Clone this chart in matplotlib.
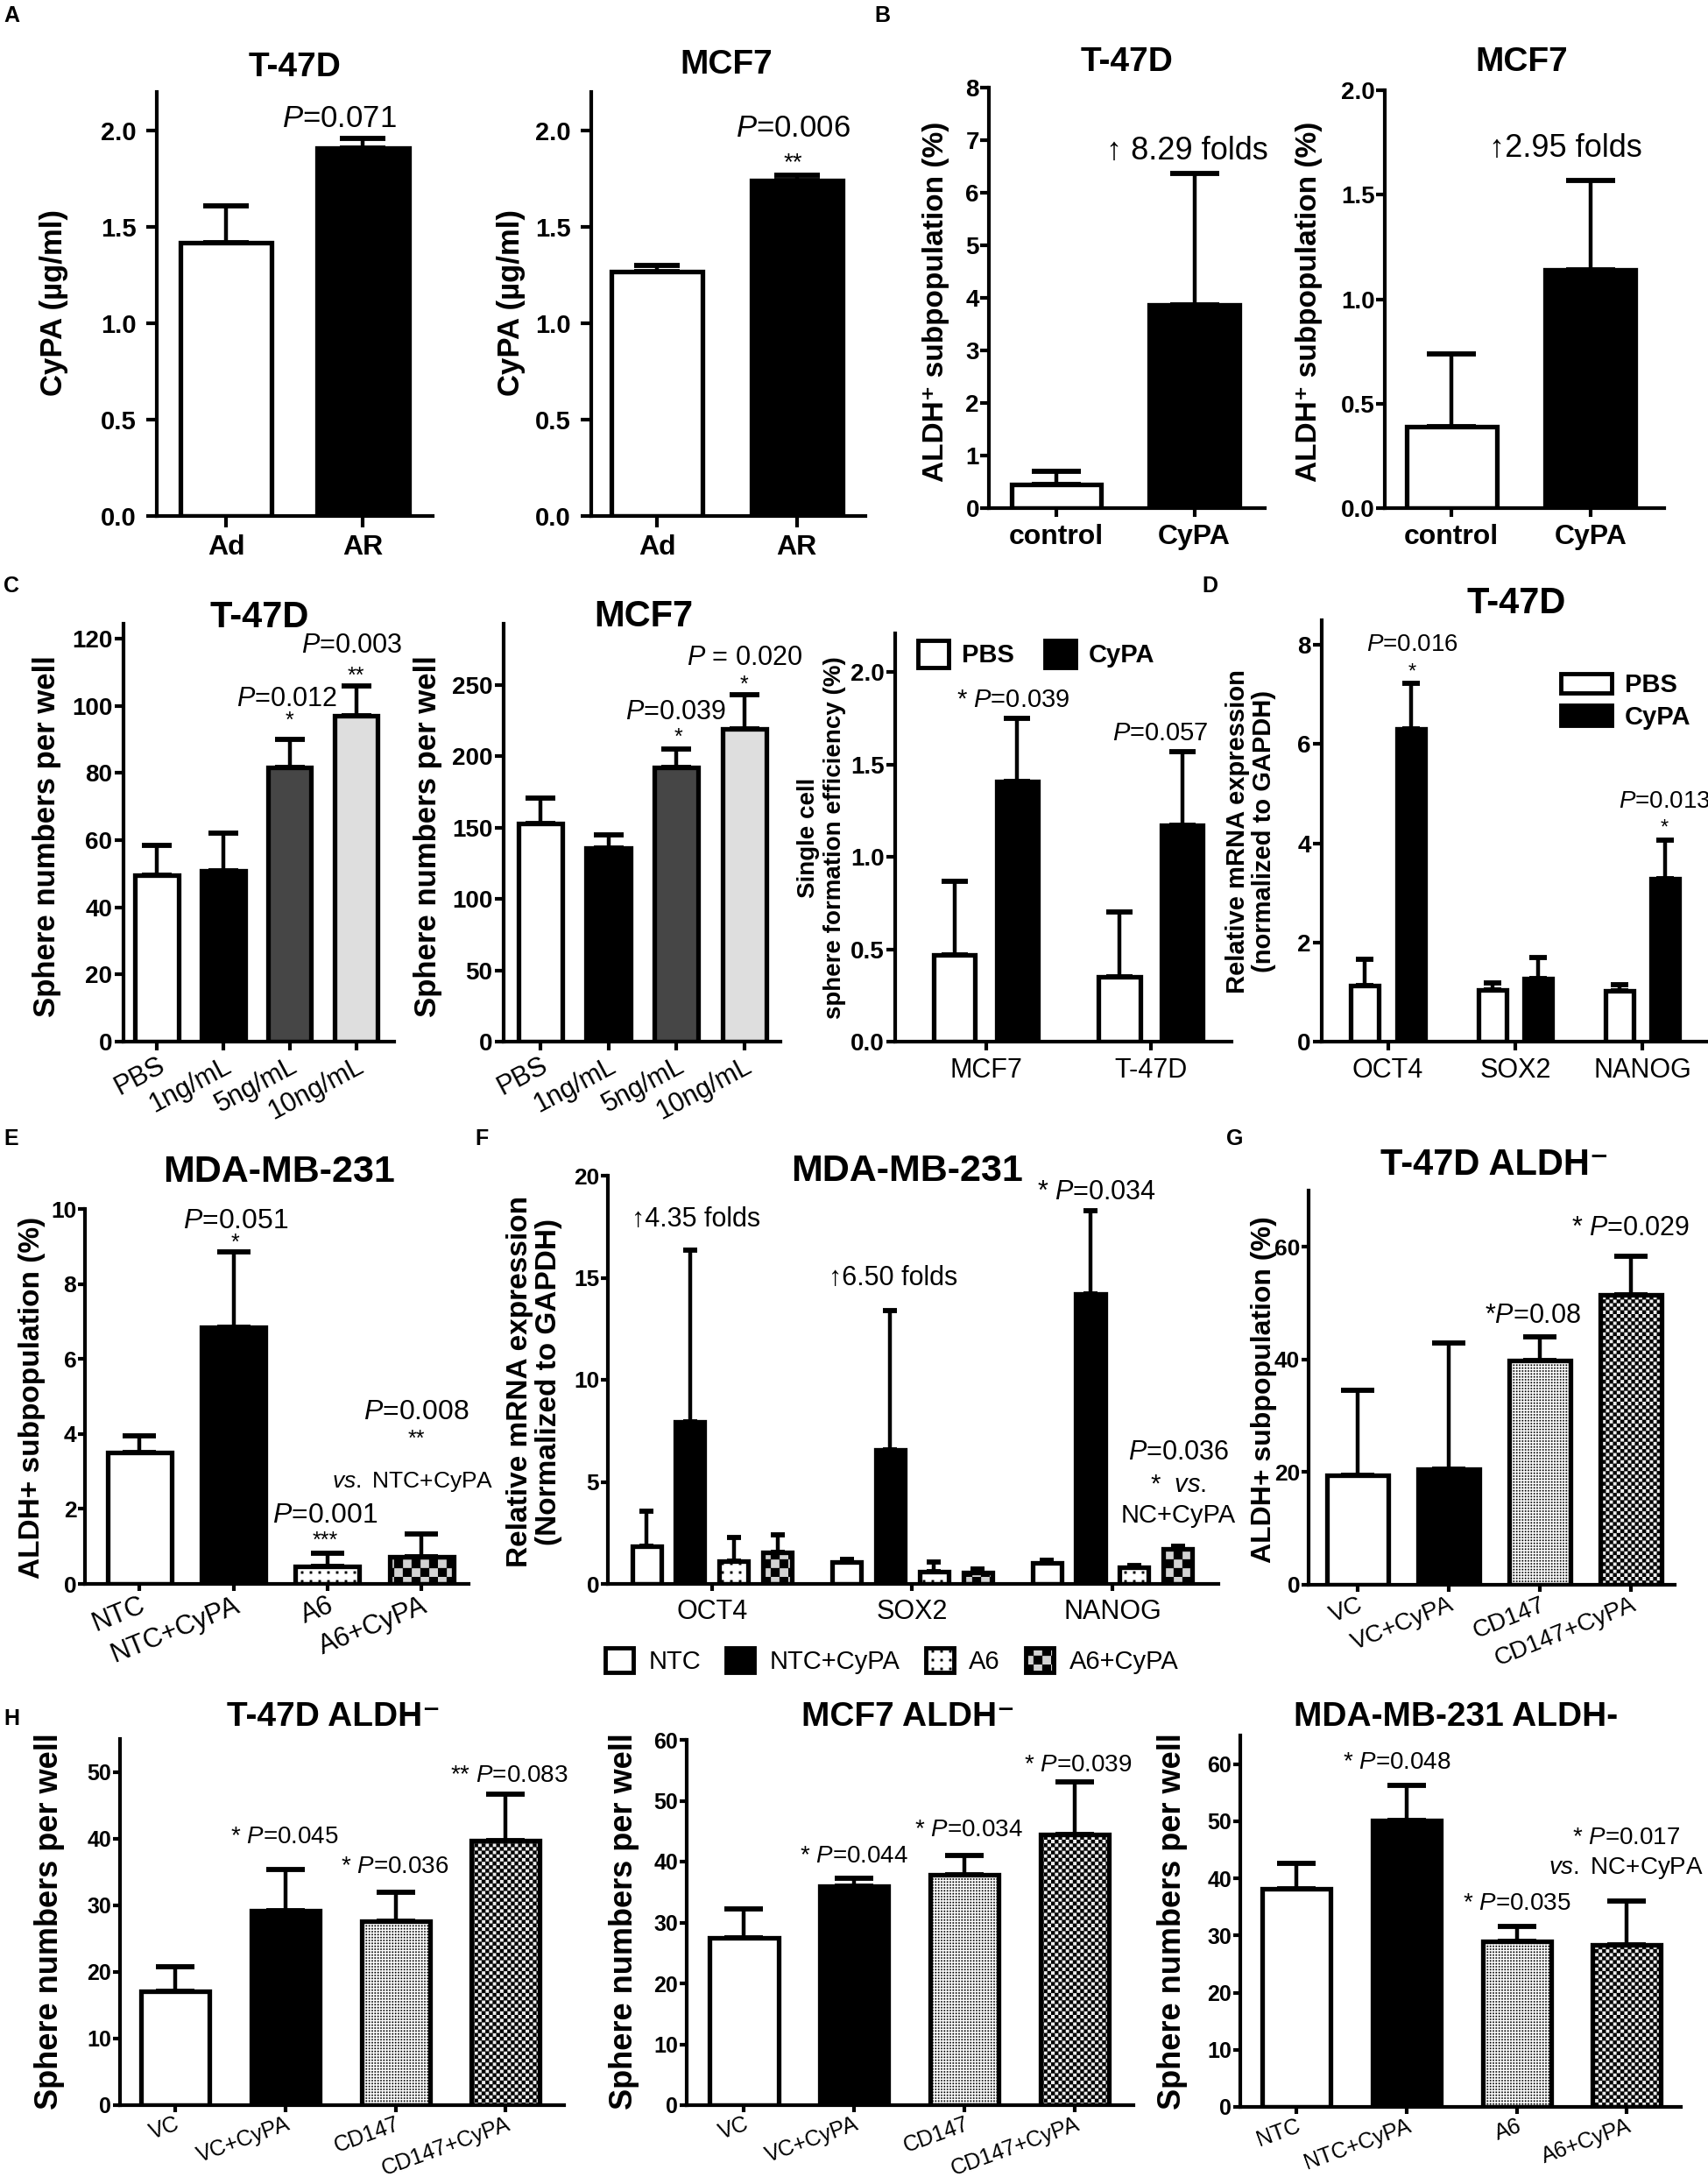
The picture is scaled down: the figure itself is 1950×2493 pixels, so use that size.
import warnings
warnings.filterwarnings('ignore')

import numpy as np
import matplotlib
matplotlib.use('Agg')
import matplotlib.pyplot as plt
import matplotlib.hatch as mhatch
from matplotlib.path import Path
from matplotlib.patches import Patch

# ---------------- data ----------------
a_labels = ['Ad', 'AR']
a_t47d_mean = [1.42, 1.91]
a_t47d_sd = [0.19, 0.05]
a_mcf7_mean = [1.27, 1.74]
a_mcf7_sd = [0.03, 0.03]

b_labels = ['control', 'CyPA']
b_t47d_mean = [0.45, 3.87]
b_t47d_sd = [0.25, 2.50]
b_mcf7_mean = [0.39, 1.14]
b_mcf7_sd = [0.35, 0.43]

c_labels = ['PBS', '1ng/mL', '5ng/mL', '10ng/mL']
c_t47d_mean = [49.5, 51.0, 81.7, 97.0]
c_t47d_sd = [9.0, 11.0, 8.3, 9.0]
c_mcf7_mean = [153, 135.5, 192, 219]
c_mcf7_sd = [18, 9.5, 13, 24]

sc_groups = ['MCF7', 'T-47D']
sc_pbs = [0.47, 0.35]
sc_pbs_sd = [0.40, 0.35]
sc_cypa = [1.41, 1.17]
sc_cypa_sd = [0.34, 0.40]

genes = ['OCT4', 'SOX2', 'NANOG']
d_pbs = [1.13, 1.05, 1.03]
d_pbs_sd = [0.53, 0.14, 0.12]
d_cypa = [6.30, 1.27, 3.29]
d_cypa_sd = [0.92, 0.43, 0.78]

e_labels = ['NTC', 'NTC+CyPA', 'A6', 'A6+CyPA']
e_mean = [3.50, 6.85, 0.47, 0.73]
e_sd = [0.45, 2.00, 0.35, 0.60]

f_series = ['NTC', 'NTC+CyPA', 'A6', 'A6+CyPA']
f_mean = [[1.85, 1.07, 1.05],
          [7.94, 6.55, 14.2],
          [1.12, 0.60, 0.82],
          [1.55, 0.56, 1.72]]
f_sd = [[1.70, 0.13, 0.10],
        [8.40, 6.85, 4.10],
        [1.15, 0.47, 0.10],
        [0.85, 0.17, 0.12]]

g_labels = ['VC', 'VC+CyPA', 'CD147', 'CD147+CyPA']
g_mean = [19.4, 20.6, 39.8, 51.5]
g_sd = [15.1, 22.3, 4.2, 6.8]

h_t47d_mean = [17.1, 29.2, 27.6, 39.7]
h_t47d_sd = [3.7, 6.2, 4.4, 7.0]
h_mcf7_mean = [27.5, 36.0, 37.8, 44.5]
h_mcf7_sd = [4.7, 1.3, 3.2, 8.6]
h_mda_labels = ['NTC', 'NTC+CyPA', 'A6', 'A6+CyPA']
h_mda_mean = [38.1, 50.2, 29.0, 28.4]
h_mda_sd = [4.5, 6.0, 2.6, 7.6]


# ---------------- custom hatches (checkerboard / dot grid) ----------------
class CheckerHatch(mhatch.HatchPatternBase):
    def __init__(self, hatch, density):
        self.n = 2 * hatch.count('k')
        self.num_vertices = (self.n * self.n // 2) * 5

    def set_vertices_and_codes(self, vertices, codes):
        s = 1.0 / self.n
        k = 0
        for i in range(self.n):
            for j in range(self.n):
                if (i + j) % 2:
                    continue
                x0, y0 = i * s, j * s
                vertices[k:k + 5] = [(x0, y0), (x0 + s, y0), (x0 + s, y0 + s),
                                     (x0, y0 + s), (x0, y0)]
                codes[k:k + 5] = [Path.MOVETO, Path.LINETO, Path.LINETO,
                                  Path.LINETO, Path.CLOSEPOLY]
                k += 5


class DotHatch(mhatch.HatchPatternBase):
    def __init__(self, hatch, density):
        self.n = 5 * hatch.count('d')
        self.num_vertices = self.n * self.n * 5

    def set_vertices_and_codes(self, vertices, codes):
        s = 1.0 / self.n
        d = s * (0.25 if self.n <= 10 else 0.42)
        k = 0
        for i in range(self.n):
            for j in range(self.n):
                x0 = i * s + (s - d) / 2
                y0 = j * s + (s - d) / 2
                vertices[k:k + 5] = [(x0, y0), (x0 + d, y0), (x0 + d, y0 + d),
                                     (x0, y0 + d), (x0, y0)]
                codes[k:k + 5] = [Path.MOVETO, Path.LINETO, Path.LINETO,
                                  Path.LINETO, Path.CLOSEPOLY]
                k += 5


mhatch._hatch_types.append(CheckerHatch)
mhatch._hatch_types.append(DotHatch)

plt.rcParams['font.family'] = ['Liberation Sans', 'DejaVu Sans']
plt.rcParams['mathtext.fontset'] = 'custom'
plt.rcParams['mathtext.rm'] = 'Liberation Sans'
plt.rcParams['mathtext.it'] = 'Liberation Sans:italic'
plt.rcParams['mathtext.bf'] = 'Liberation Sans:bold'
plt.rcParams['hatch.linewidth'] = 0.2

STYLE = {
    'white': dict(facecolor='white'),
    'black': dict(facecolor='black'),
    'dark': dict(facecolor='#464646'),
    'light': dict(facecolor='#dedede'),
    'dots': dict(facecolor='white', hatch='dd'),
    'checker': dict(facecolor='#d2d2d2', hatch='kkkkk'),
    'stipple': dict(facecolor='white', hatch='dddddd'),
    'fine': dict(facecolor='#ececec', hatch='k' * 12),
}

W, H = 1950, 2493
fig = plt.figure(figsize=(W / 100, H / 100), dpi=100)


def ftext(x, y, s, **kw):
    kw.setdefault('ha', 'center')
    kw.setdefault('va', 'center')
    fig.text(x / W, 1 - y / H, s, **kw)


def make_axes(l, t, r, b, xlim, ylim, yticks, size, fmt='{:g}', length=7, pad=2):
    ax = fig.add_axes([l / W, 1 - b / H, (r - l) / W, (b - t) / H])
    ax.set_xlim(*xlim)
    ax.set_ylim(*ylim)
    ax.spines[['top', 'right']].set_visible(False)
    ax.spines[['left', 'bottom']].set_linewidth(3)
    ax.set_yticks(yticks, [fmt.format(v) for v in yticks],
                  fontsize=size, fontweight='bold')
    ax.tick_params(width=3, length=length, pad=pad)
    ax.patch.set_visible(False)
    return ax


def bars(ax, xs, means, sds, kinds, width, cap):
    for x, m, s, k in zip(xs, means, sds, kinds):
        ax.errorbar(x, m, yerr=[[0], [s]], fmt='none', ecolor='black',
                    elinewidth=3.2, capsize=cap, capthick=4.2, zorder=1.5)
        ax.bar(x, m, width=width, edgecolor='black', linewidth=3.8,
               zorder=2, **STYLE[k])


def notes(ax, items):
    for x, y, s, size in items:
        ax.text(x, y, s, ha='center', va='center', fontsize=size)


def handles(kinds, names):
    return [Patch(edgecolor='black', linewidth=3.5, label=n, **STYLE[k])
            for k, n in zip(kinds, names)]


# ---------------- A ----------------
ax = make_axes(179, 105, 494, 589, (-0.506, 1.51), (0, 2.2),
               [0, 0.5, 1.0, 1.5, 2.0], 21, '{:.1f}', length=9, pad=8)
bars(ax, [0, 1], a_t47d_mean, a_t47d_sd, ['white', 'black'], 0.67, 18.5)
ax.set_xticks([0, 1], a_labels, fontsize=23, fontweight='bold')
ax.tick_params(axis='x', pad=6)
notes(ax, [(0.83, 2.06, '$P$=0.071', 25)])
ftext(337, 77, 'T-47D', fontsize=28, fontweight='bold')
ftext(62, 346, 'CyPA (µg/ml)', fontsize=25, fontweight='bold', rotation=90)

ax = make_axes(675, 105, 988, 589, (-0.47, 1.49), (0, 2.2),
               [0, 0.5, 1.0, 1.5, 2.0], 21, '{:.1f}', length=9, pad=8)
bars(ax, [0, 1], a_mcf7_mean, a_mcf7_sd, ['white', 'black'], 0.65, 18.5)
ax.set_xticks([0, 1], a_labels, fontsize=23, fontweight='bold')
ax.tick_params(axis='x', pad=6)
notes(ax, [(0.97, 2.01, '$P$=0.006', 25), (0.97, 1.83, '**', 20)])
ftext(829, 74, 'MCF7', fontsize=28, fontweight='bold')
ftext(583, 346, 'CyPA (µg/ml)', fontsize=25, fontweight='bold', rotation=90)

# ---------------- B ----------------
ax = make_axes(1129, 100, 1444, 580, (-0.49, 1.51), (0, 8),
               list(range(0, 9)), 20, length=7, pad=1)
bars(ax, [0, 1], b_t47d_mean, b_t47d_sd, ['white', 'black'], 0.65, 20)
ax.set_xticks([0, 1], b_labels, fontsize=23, fontweight='bold')
ax.tick_params(axis='x', pad=6)
notes(ax, [(0.95, 6.8, '↑ 8.29 folds', 26)])
ftext(1287, 71, 'T-47D', fontsize=28, fontweight='bold')
ftext(1068, 344, 'ALDH⁺ subpopulation (%)', fontsize=24, fontweight='bold',
      rotation=90)

ax = make_axes(1581, 103, 1900, 580, (-0.48, 1.53), (0, 2.0),
               [0, 0.5, 1.0, 1.5, 2.0], 20, '{:.1f}', length=7, pad=1)
bars(ax, [0, 1], b_mcf7_mean, b_mcf7_sd, ['white', 'black'], 0.65, 20)
ax.set_xticks([0, 1], b_labels, fontsize=23, fontweight='bold')
ax.tick_params(axis='x', pad=6)
notes(ax, [(0.82, 1.72, '↑2.95 folds', 26)])
ftext(1737, 71, 'MCF7', fontsize=28, fontweight='bold')
ftext(1494, 344, 'ALDH⁺ subpopulation (%)', fontsize=24, fontweight='bold',
      rotation=90)

# ---------------- C ----------------
c_kinds = ['white', 'black', 'dark', 'light']
ax = make_axes(141, 712, 450, 1189, (-0.5, 3.57), (0, 124.5),
               list(range(0, 121, 20)), 20)
bars(ax, range(4), c_t47d_mean, c_t47d_sd, c_kinds, 0.65, 12)
ax.set_xticks(range(4), c_labels, fontsize=22, rotation=28, ha='right',
              rotation_mode='anchor')
notes(ax, [(2.93, 118, '$P$=0.003', 22), (2.99, 109, '**', 18),
           (1.95, 102, '$P$=0.012', 22), (2.0, 95.5, '*', 18)])
ftext(296, 705, 'T-47D', fontsize=30, fontweight='bold')
ftext(54, 955, 'Sphere numbers per well', fontsize=25, fontweight='bold',
      rotation=90)

ax = make_axes(575, 712, 891, 1189, (-0.54, 3.53), (0, 293),
               list(range(0, 251, 50)), 20)
bars(ax, range(4), c_mcf7_mean, c_mcf7_sd, c_kinds, 0.65, 12)
ax.set_xticks(range(4), c_labels, fontsize=22, rotation=28, ha='right',
              rotation_mode='anchor')
notes(ax, [(3.0, 269, '$P$ = 0.020', 22), (3.0, 250, '*', 18),
           (1.99, 231, '$P$=0.039', 22), (2.03, 213, '*', 18)])
ftext(735, 704, 'MCF7', fontsize=30, fontweight='bold')
ftext(489, 955, 'Sphere numbers per well', fontsize=25, fontweight='bold',
      rotation=90)

# single cell sphere formation
ax = make_axes(1022, 723, 1406, 1189, (-0.55, 1.49), (0, 2.21),
               [0, 0.5, 1.0, 1.5, 2.0], 20, '{:.1f}')
xg = np.arange(len(sc_groups))
bars(ax, xg - 0.19, sc_pbs, sc_pbs_sd, ['white'] * 2, 0.25, 11)
bars(ax, xg + 0.19, sc_cypa, sc_cypa_sd, ['black'] * 2, 0.25, 11)
ax.set_xticks(xg, sc_groups, fontsize=22)
ax.tick_params(axis='x', pad=6)
notes(ax, [(0.165, 1.85, '* $P$=0.039', 21), (1.06, 1.67, '$P$=0.057', 21)])
ax.legend(handles=handles(['white', 'black'], ['PBS', 'CyPA']), ncol=2,
          loc='upper left', bbox_to_anchor=(0.0, 1.04), frameon=False,
          handlelength=1.2, handleheight=1.3, columnspacing=1.2,
          handletextpad=0.5, prop=dict(size=21, weight='bold'))
ftext(938, 956, 'Single cell\nsphere formation efficiency (%)', fontsize=20,
      fontweight='bold', rotation=90, linespacing=1.15)

# ---------------- D ----------------
ax = make_axes(1509, 708, 1948, 1189, (-0.52, 2.5), (0, 8.5),
               [0, 2, 4, 6, 8], 20)
xg = np.arange(len(genes))
bars(ax, xg - 0.18, d_pbs, d_pbs_sd, ['white'] * 3, 0.22, 7.5)
bars(ax, xg + 0.18, d_cypa, d_cypa_sd, ['black'] * 3, 0.22, 7.5)
ax.set_xticks(xg, genes, fontsize=22)
ax.tick_params(axis='x', pad=6)
notes(ax, [(0.19, 8.0, '$P$=0.016', 20), (0.19, 7.45, '*', 17),
           (2.17, 4.85, '$P$=0.013', 20), (2.17, 4.3, '*', 17)])
ax.legend(handles=handles(['white', 'black'], ['PBS', 'CyPA']), ncol=1,
          loc='upper right', bbox_to_anchor=(1.02, 0.93), frameon=False,
          handlelength=2.0, handleheight=0.8, labelspacing=0.3,
          handletextpad=0.5, prop=dict(size=21, weight='bold'))
ftext(1731, 689, 'T-47D', fontsize=30, fontweight='bold')
ftext(1428, 949, 'Relative mRNA expression\n(normalized to GAPDH)',
      fontsize=21, fontweight='bold', rotation=90, linespacing=1.1)

# ---------------- E ----------------
ax = make_axes(97, 1380, 535, 1808, (-0.58, 3.5), (0, 10),
               [0, 2, 4, 6, 8, 10], 19, length=6, pad=1)
bars(ax, range(4), e_mean, e_sd, ['white', 'black', 'dots', 'checker'], 0.68, 14)
ax.set_xticks(range(4), e_labels, fontsize=22, rotation=22, ha='right',
              rotation_mode='anchor')
notes(ax, [(1.02, 9.67, '$P$=0.051', 23), (1.02, 9.1, '*', 18),
           (2.94, 4.58, '$P$=0.008', 23), (2.94, 3.85, '**', 18),
           (2.91, 2.73, r'$\mathit{vs.}$ NTC+CyPA', 19),
           (1.97, 1.82, '$P$=0.001', 23), (1.97, 1.15, '***', 18)])
ftext(319, 1338, 'MDA-MB-231', fontsize=31, fontweight='bold')
ftext(37, 1595, 'ALDH+ subpopulation (%)', fontsize=24, fontweight='bold',
      rotation=90)

# ---------------- F ----------------
ax = make_axes(694, 1342, 1391, 1808, (-0.52, 2.53), (0, 20),
               [0, 5, 10, 15, 20], 19, length=6, pad=1)
f_kinds = ['white', 'black', 'dots', 'checker']
xg = np.arange(len(genes))
for i, kind in enumerate(f_kinds):
    bars(ax, xg + (i - 1.5) * 0.218, f_mean[i], f_sd[i], [kind] * 3, 0.145, 5.5)
ax.set_xticks(xg, genes, fontsize=22)
ax.tick_params(axis='x', pad=6)
notes(ax, [(-0.08, 17.85, '↑4.35 folds', 22), (0.906, 15.0, '↑6.50 folds', 22),
           (1.92, 19.2, '* $P$=0.034', 22), (2.33, 6.44, '$P$=0.036', 22),
           (2.33, 4.85, r'*  $\mathit{vs.}$', 21), (2.33, 3.35, 'NC+CyPA', 21)])
ax.legend(handles=handles(f_kinds, f_series), ncol=4, loc='upper center',
          bbox_to_anchor=(0.465, -0.1), frameon=False, handlelength=1.1,
          handleheight=1.1, columnspacing=1.0, handletextpad=0.6,
          prop=dict(size=21))
ftext(1036, 1337, 'MDA-MB-231', fontsize=31, fontweight='bold')
ftext(610, 1577, 'Relative mRNA expression\n(Normalized to GAPDH)',
      fontsize=24, fontweight='bold', rotation=90, linespacing=1.1)

# ---------------- G ----------------
g_kinds = ['white', 'black', 'stipple', 'fine']
ax = make_axes(1494, 1359, 1912, 1809, (-0.54, 3.48), (0, 70),
               [0, 20, 40, 60], 19, length=6, pad=1)
bars(ax, range(4), g_mean, g_sd, g_kinds, 0.67, 14)
ax.set_xticks(range(4), g_labels, fontsize=20, rotation=22, ha='right',
              rotation_mode='anchor')
notes(ax, [(1.92, 47.7, '*$P$=0.08', 22), (3.0, 63.3, '* $P$=0.029', 22)])
ftext(1706, 1330, 'T-47D ALDH⁻', fontsize=30, fontweight='bold')
ftext(1443, 1586, 'ALDH+ subpopulation (%)', fontsize=23, fontweight='bold',
      rotation=90)

# ---------------- H ----------------
ax = make_axes(137, 1985, 644, 2403, (-0.5, 3.53), (0, 55),
               list(range(0, 51, 10)), 18, length=6, pad=1)
bars(ax, range(4), h_t47d_mean, h_t47d_sd, g_kinds, 0.62, 16)
ax.set_xticks(range(4), g_labels, fontsize=18, rotation=20, ha='right',
              rotation_mode='anchor')
notes(ax, [(0.99, 40.3, '* $P$=0.045', 20), (1.99, 35.8, '* $P$=0.036', 20),
           (3.03, 49.5, '** $P$=0.083', 20)])
ftext(381, 1960, 'T-47D ALDH⁻', fontsize=28, fontweight='bold')
ftext(57, 2193, 'Sphere numbers per well', fontsize=26, fontweight='bold',
      rotation=90)

ax = make_axes(784, 1986, 1294, 2403, (-0.52, 3.53), (0, 60),
               list(range(0, 61, 10)), 18, length=6, pad=1)
bars(ax, range(4), h_mcf7_mean, h_mcf7_sd, g_kinds, 0.62, 16)
ax.set_xticks(range(4), g_labels, fontsize=18, rotation=20, ha='right',
              rotation_mode='anchor')
notes(ax, [(1.0, 40.9, '* $P$=0.044', 20), (2.04, 45.2, '* $P$=0.034', 20),
           (3.03, 55.8, '* $P$=0.039', 20)])
ftext(1037, 1960, 'MCF7 ALDH⁻', fontsize=28, fontweight='bold')
ftext(713, 2193, 'Sphere numbers per well', fontsize=26, fontweight='bold',
      rotation=90)

ax = make_axes(1416, 1981, 1919, 2405, (-0.51, 3.49), (0, 65),
               list(range(0, 61, 10)), 18, length=6, pad=1)
bars(ax, range(4), h_mda_mean, h_mda_sd, g_kinds, 0.62, 16)
ax.set_xticks(range(4), h_mda_labels, fontsize=18, rotation=20, ha='right',
              rotation_mode='anchor')
notes(ax, [(0.91, 60.2, '* $P$=0.048', 20), (2.99, 47.1, '* $P$=0.017', 20),
           (2.99, 41.8, r'$\mathit{vs.}$ NC+CyPA', 20),
           (2.0, 35.6, '* $P$=0.035', 20)])
ftext(1662, 1960, 'MDA-MB-231 ALDH-', fontsize=28, fontweight='bold')
ftext(1338, 2193, 'Sphere numbers per well', fontsize=26, fontweight='bold',
      rotation=90)

# panel letters
for letter, x, y in [('A', 4, 18), ('B', 998, 18), ('C', 4, 669),
                     ('D', 1372, 669), ('E', 4, 1300), ('F', 542, 1300),
                     ('G', 1400, 1300), ('H', 4, 1962)]:
    ftext(x, y, letter, fontsize=18, fontweight='bold', ha='left')

plt.savefig('out.png', dpi=100)
